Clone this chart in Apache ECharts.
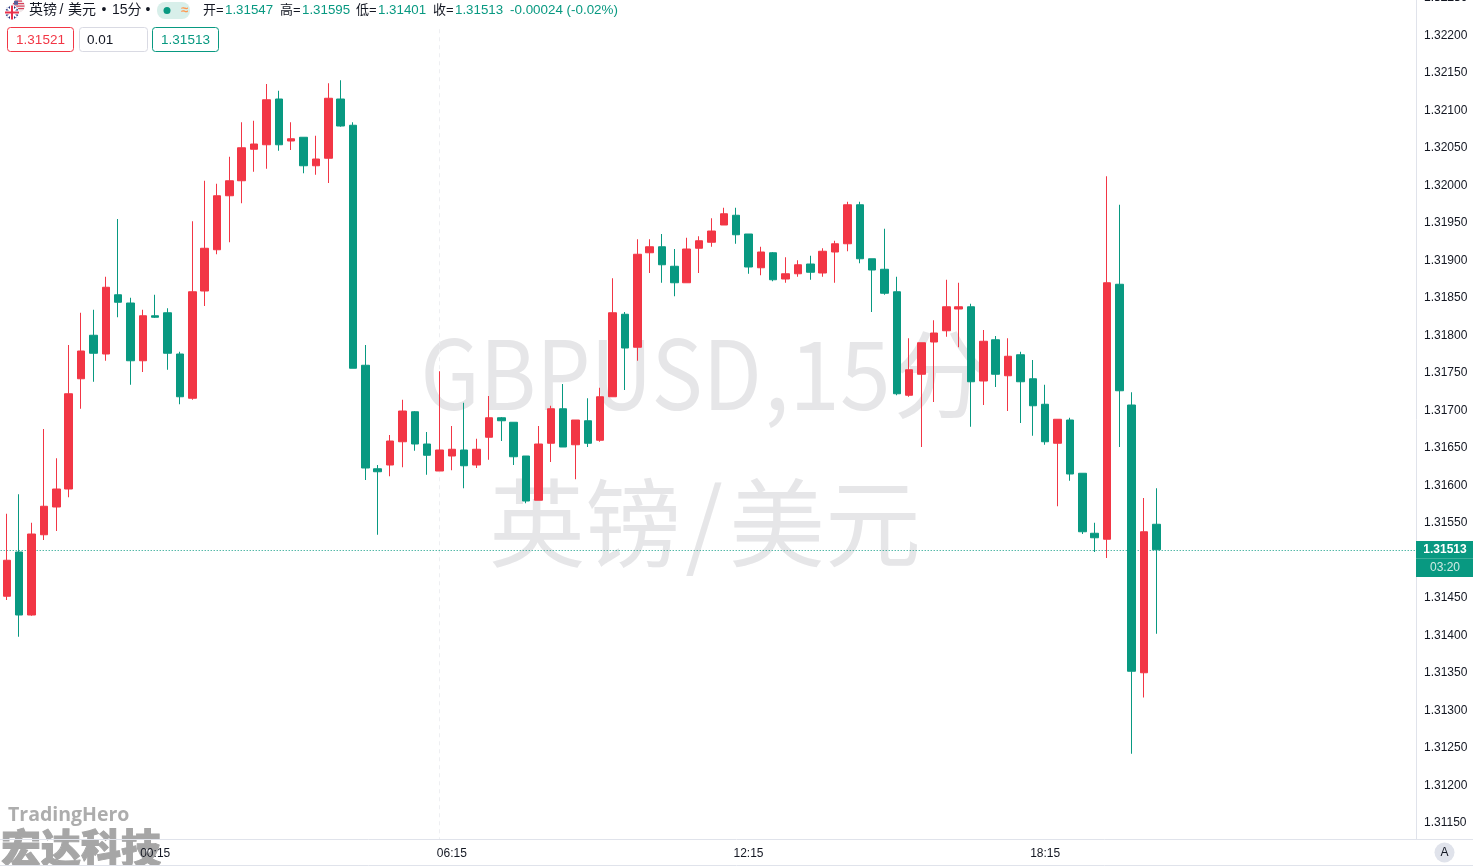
<!DOCTYPE html>
<html><head><meta charset="utf-8">
<style>html,body{margin:0;padding:0;background:#fff;overflow:hidden}#c{width:1473px;height:866px}</style>
<script src="https://cdn.jsdelivr.net/npm/echarts@6/dist/echarts.min.js"></script>
</head><body><div id="c"></div>
<script>
const opens=[1.31451,1.31510,1.31426,1.31533,1.31570,1.31594,1.31741,1.31799,1.31774,1.31853,
1.31842,1.31765,1.31825,1.31829,1.31774,1.31715,1.31858,1.31913,1.31985,1.32005,
1.32047,1.32053,1.32114,1.32058,1.32063,1.32025,1.32035,1.32114,1.32079,1.31759,
1.31621,1.31626,1.31657,1.31697,1.31654,1.31618,1.31638,1.31646,1.31626,1.31663,
1.31689,1.31683,1.31638,1.31579,1.31655,1.31701,1.31653,1.31685,1.31659,1.31717,
1.31827,1.31783,1.31909,1.31917,1.31891,1.31869,1.31915,1.31923,1.31946,1.31959,
1.31934,1.31889,1.31909,1.31874,1.31881,1.31894,1.31882,1.31910,1.31921,1.31973,
1.31901,1.31887,1.31857,1.31719,1.31747,1.31790,1.31805,1.31834,1.31837,1.31738,
1.31793,1.31745,1.31773,1.31741,1.31707,1.31655,1.31686,1.31615,1.31535,1.31527,
1.31867,1.31706,1.31349,1.31547];
const closes=[1.31499,1.31426,1.31534,1.31571,1.31594,1.31721,1.31778,1.31775,1.31863,1.31843,
1.31765,1.31825,1.31823,1.31775,1.31717,1.31857,1.31915,1.31985,1.32005,1.32049,
1.32054,1.32113,1.32053,1.32061,1.32025,1.32034,1.32115,1.32078,1.31755,1.31622,
1.31617,1.31658,1.31698,1.31654,1.31639,1.31646,1.31647,1.31625,1.31647,1.31689,
1.31685,1.31637,1.31578,1.31654,1.31701,1.31650,1.31686,1.31655,1.31717,1.31829,
1.31782,1.31907,1.31917,1.31893,1.31869,1.31914,1.31925,1.31938,1.31961,1.31933,
1.31890,1.31910,1.31873,1.31881,1.31893,1.31883,1.31911,1.31921,1.31973,1.31901,
1.31886,1.31855,1.31721,1.31753,1.31789,1.31802,1.31837,1.31837,1.31737,1.31791,
1.31747,1.31771,1.31737,1.31705,1.31657,1.31687,1.31614,1.31537,1.31529,1.31869,
1.31725,1.31351,1.31537,1.31513];
const lows=[1.31446,1.31397,1.31425,1.31526,1.31538,1.31583,1.31701,1.31737,1.31765,1.31823,
1.31733,1.31750,1.31822,1.31753,1.31707,1.31713,1.31838,1.31907,1.31923,1.31975,
1.32017,1.32021,1.32045,1.32046,1.32015,1.32013,1.32002,1.32077,1.31755,1.31606,
1.31533,1.31611,1.31623,1.31645,1.31613,1.31618,1.31619,1.31595,1.31622,1.31633,
1.31658,1.31626,1.31575,1.31579,1.31630,1.31650,1.31607,1.31650,1.31657,1.31717,
1.31726,1.31765,1.31882,1.31869,1.31851,1.31869,1.31882,1.31917,1.31946,1.31921,
1.31881,1.31879,1.31871,1.31869,1.31877,1.31873,1.31877,1.31869,1.31911,1.31895,
1.31830,1.31853,1.31719,1.31717,1.31650,1.31710,1.31797,1.31783,1.31677,1.31706,
1.31730,1.31698,1.31682,1.31665,1.31653,1.31571,1.31605,1.31534,1.31510,1.31502,
1.31650,1.31241,1.31316,1.31401];
const highs=[1.31561,1.31587,1.31549,1.31674,1.31635,1.31786,1.31829,1.31833,1.31877,1.31954,
1.31849,1.31833,1.31853,1.31835,1.31777,1.31951,1.32005,1.32001,1.32037,1.32083,
1.32085,1.32134,1.32125,1.32083,1.32063,1.32065,1.32135,1.32139,1.32083,1.31786,
1.31626,1.31666,1.31713,1.31698,1.31670,1.31751,1.31678,1.31709,1.31661,1.31718,
1.31690,1.31683,1.31638,1.31678,1.31705,1.31734,1.31686,1.31715,1.31729,1.31875,
1.31830,1.31927,1.31927,1.31934,1.31914,1.31929,1.31931,1.31955,1.31969,1.31969,
1.31934,1.31917,1.31910,1.31903,1.31899,1.31905,1.31915,1.31925,1.31977,1.31977,
1.31901,1.31941,1.31877,1.31795,1.31789,1.31819,1.31873,1.31869,1.31841,1.31806,
1.31798,1.31795,1.31777,1.31766,1.31733,1.31687,1.31689,1.31615,1.31549,1.32011,
1.31973,1.31723,1.31582,1.31595];
const timeTickIndex=[12,36,60,84];
const timeTickLabels=['00:15','06:15','12:15','18:15'];
const priceTicks=[1.3225,1.322,1.3215,1.321,1.3205,1.32,1.3195,1.319,1.3185,1.318,1.3175,1.317,1.3165,1.316,1.3155,1.315,1.3145,1.314,1.3135,1.313,1.3125,1.312,1.3115];
const priceLineLevel=1.31512;
const crosshairIndex=35;
const axisX=[-0.5,114];
const axisY=[1.31127,1.32254];

const UP='#f23645',DOWN='#089981',TXT='#131722',LINE='#e0e3eb',F='"Liberation Sans","Noto Sans CJK SC",sans-serif';
const CJK='"Noto Sans CJK SC",sans-serif';
const WM='#e6e6e8';
const candles=opens.map((o,i)=>[i,o,closes[i],lows[i],highs[i]]);

function txt(x,y,text,fs,fill,extra){return {type:'text',x,y,z:50,style:Object.assign({text,font:fs+'px '+F,fill,textVerticalAlign:'middle'},extra||{})};}
function wm(x,y,text,align,sx){return {type:'text',z:-1,x,y,scaleX:sx||1,style:{text,font:'96px '+CJK,fill:WM,textAlign:align||'left',textVerticalAlign:'middle'}};}
function box(x,w,stroke,label,color,left){return [
 {type:'rect',z:50,shape:{x:x+.5,y:27.5,width:w,height:24,r:3},style:{fill:'#fff',stroke,lineWidth:1}},
 {type:'text',z:51,x:left?x+8:x+w/2+.5,y:40,style:{text:label,font:'13.5px '+F,fill:color,textAlign:left?'left':'center',textVerticalAlign:'middle'}}];}
const ohlc=[[203,'开=','1.31547'],[280,'高=','1.31595'],[356,'低=','1.31401'],[433,'收=','1.31513']];

const graphics=[
 wm(420.5,374,'GBPUSD','left',.895),
 wm(764,374,',15','left',.95),
 wm(892,374,'分'),
 wm(489,523,'英镑'),
 wm(704,523,'/','center'),
 wm(729,523,'美元'),
 {type:'text',z:-1,x:8,y:815,style:{text:'TradingHero',font:'bold 19.5px "Open Sans",sans-serif',fill:'#adadad',textVerticalAlign:'middle'}},
 {type:'text',z:-1,x:1,y:848,style:{text:'宏达科技',font:'900 40px '+CJK,fill:'#a6a6a6',stroke:'#a6a6a6',lineWidth:1,textVerticalAlign:'middle'}},
 {type:'line',z:3,shape:{x1:0,y1:839.5,x2:1473,y2:839.5},style:{stroke:LINE,lineWidth:1}},
 {type:'line',z:3,shape:{x1:0,y1:865.5,x2:1473,y2:865.5},style:{stroke:LINE,lineWidth:1}},
 // flag: US behind, UK in front
 {type:'circle',z:50,shape:{cx:18.5,cy:6,r:6.5},style:{fill:'#f0e6e8'}},
 {type:'rect',z:50,shape:{x:15,y:.5,width:7,height:1.2},style:{fill:'#d8405a'}},
 {type:'rect',z:50,shape:{x:13,y:3,width:11,height:1.2},style:{fill:'#d8405a'}},
 {type:'rect',z:50,shape:{x:12.5,y:5.5,width:12,height:1.2},style:{fill:'#d8405a'}},
 {type:'rect',z:50,shape:{x:13,y:8,width:11,height:1.2},style:{fill:'#d8405a'}},
 {type:'rect',z:50,shape:{x:14,y:.8,width:4,height:4},style:{fill:'#5a5f9a'}},
 {type:'circle',z:51,shape:{cx:12,cy:12.5,r:7},style:{fill:'#27357f',stroke:'#fff',lineWidth:1}},
 {type:'line',z:52,shape:{x1:7.5,y1:8,x2:16.5,y2:17},style:{stroke:'#fff',lineWidth:2}},
 {type:'line',z:52,shape:{x1:16.5,y1:8,x2:7.5,y2:17},style:{stroke:'#fff',lineWidth:2}},
 {type:'rect',z:53,shape:{x:5,y:10.5,width:14,height:4},style:{fill:'#fff'}},
 {type:'rect',z:53,shape:{x:10,y:5.5,width:4,height:14},style:{fill:'#fff'}},
 {type:'rect',z:54,shape:{x:5,y:11.5,width:14,height:2},style:{fill:'#e8304a'}},
 {type:'rect',z:54,shape:{x:11,y:5.5,width:2,height:14},style:{fill:'#e8304a'}},
 txt(29,10.5,'英镑',14,TXT),txt(59.5,10.5,'/',14,TXT),txt(68,10.5,'美元',14,TXT),
 txt(101.5,10.5,'•',14,TXT),txt(112,10.5,'15分',14,TXT),txt(145.5,10.5,'•',14,TXT),
 {type:'rect',z:50,shape:{x:157,y:2,width:33,height:17,r:8},style:{fill:'#d8efea'}},
 {type:'circle',z:51,shape:{cx:167,cy:10.5,r:3.5},style:{fill:DOWN}},
 txt(181,10.5,'≈',13,'#ff9850',{font:'bold 13px '+F}),
 ...ohlc.flatMap(r=>[txt(r[0],10.5,r[1],13,TXT),txt(r[0]+22,10.5,r[2],13.3,DOWN)]),
 txt(510,10.5,'-0.00024 (-0.02%)',13.4,DOWN),
 ...box(7,66,UP,'1.31521',UP),
 ...box(79,68,'#d9dae3','0.01',TXT,true),
 ...box(152,66,DOWN,'1.31513',DOWN),
 // top price tick, only partly inside the page
 txt(1424,-2,priceTicks[0].toFixed(5),12,TXT),
 // price tag
 {type:'rect',z:60,shape:{x:1416,y:541,width:57,height:36},style:{fill:DOWN}},
 {type:'line',z:61,shape:{x1:1416,y1:558.5,x2:1473,y2:558.5},style:{stroke:'#3aad98',lineWidth:1}},
 {type:'text',z:61,x:1445,y:550,style:{text:'1.31513',font:'bold 12px '+F,fill:'#fff',textAlign:'center',textVerticalAlign:'middle'}},
 {type:'text',z:61,x:1445,y:568,style:{text:'03:20',font:'12px '+F,fill:'#cfeae4',textAlign:'center',textVerticalAlign:'middle'}},
 // auto button
 {type:'circle',z:50,shape:{cx:1444.5,cy:852.5,r:10},style:{fill:'#e0e3eb'}},
 {type:'text',z:51,x:1444.5,y:853,style:{text:'A',font:'12px '+F,fill:TXT,textAlign:'center',textVerticalAlign:'middle'}}
];

const chart=echarts.init(document.getElementById('c'),null,{renderer:'canvas'});
chart.setOption({
 animation:false,backgroundColor:'#fff',
 grid:{left:0.7,top:-6,width:1415.3,height:845.25,containLabel:false,outerBoundsMode:'none'},
 xAxis:{type:'value',min:axisX[0],max:axisX[1],splitLine:{show:false},axisTick:{show:false},
  axisLine:{show:false},
  axisLabel:{customValues:timeTickIndex,margin:8,fontSize:12,color:TXT,fontFamily:F,
   formatter:v=>timeTickLabels[timeTickIndex.indexOf(v)]||''}},
 yAxis:{type:'value',position:'right',min:axisY[0],max:axisY[1],scale:true,splitLine:{show:false},
  axisTick:{show:false},axisLine:{show:true,onZero:false,lineStyle:{color:LINE,width:1}},
  axisLabel:{customValues:priceTicks,margin:8,color:TXT,
   formatter:v=>'{p|'+v.toFixed(5)+'}',
   rich:{p:{fontSize:12,color:TXT,fontFamily:F,padding:[2,0,0,0]}}}},
 graphic:{elements:graphics},
 series:[
  {type:'line',silent:true,z:1,symbol:'none',data:[[crosshairIndex,1.32207],[crosshairIndex,axisY[0]]],
   lineStyle:{color:'#eeeff2',width:1,type:[4,4]}},
  {type:'line',silent:true,z:1,symbol:'none',data:[[axisX[0],priceLineLevel],[axisX[1],priceLineLevel]],
   lineStyle:{color:DOWN,width:1,type:[1,2]}},
  {type:'candlestick',z:2,barWidth:8,data:candles,encode:{x:0,y:[1,2,3,4]},
   itemStyle:{color:UP,color0:DOWN,borderColor:UP,borderColor0:DOWN,borderColorDoji:UP,borderWidth:1}}
 ]
});
</script></body></html>
